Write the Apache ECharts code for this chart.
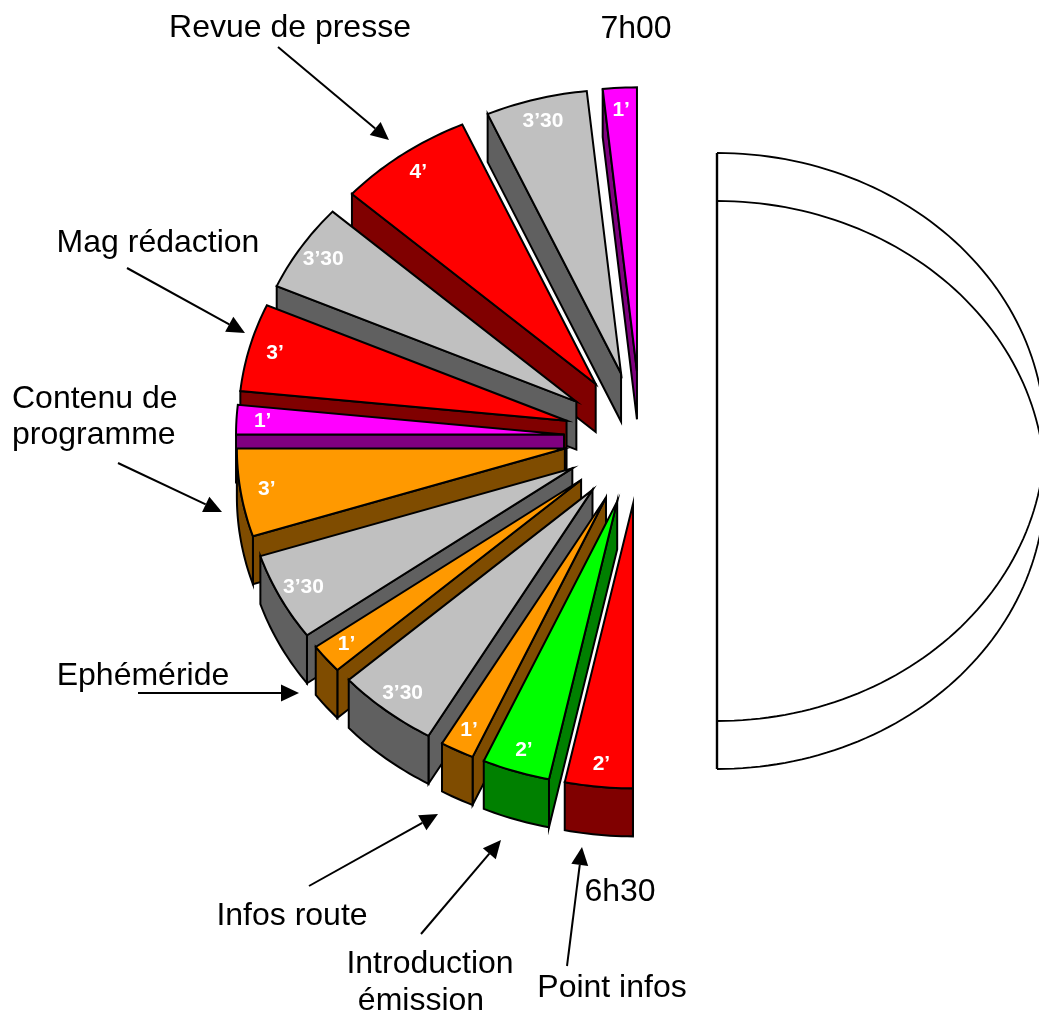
<!DOCTYPE html>
<html>
<head>
<meta charset="utf-8">
<style>
  html, body { margin: 0; padding: 0; background: #fff; }
  #box { width: 1039px; height: 1013px; }
</style>
<script src="https://cdn.jsdelivr.net/npm/echarts@6/dist/echarts.min.js"></script>
</head>
<body>
<div id="box"></div>
<script>
// from the bottom (6h30) to the top (7h00)
// the 3'30 slices are drawn as 3 minutes in the picture, the half turn is 30
var sliceMinutes = [2, 2, 1, 3, 1, 3, 3, 1, 3, 3, 4, 3, 1];
var sliceLabels = ['2’', '2’', '1’', '3’30', '1’', '3’30', '3’', '1’', '3’', '3’30', '4’', '3’30', '1’'];
var sliceKinds = ['red', 'green', 'orange', 'grey', 'orange', 'grey', 'orange', 'pink', 'red', 'grey', 'red', 'grey', 'pink'];
var kindColors = {
  red: ['#ff0000', '#800000'],
  green: ['#00ff00', '#008000'],
  orange: ['#ff9900', '#7f4c00'],
  grey: ['#c0c0c0', '#606060'],
  pink: ['#ff00ff', '#800080']
};
var halfPie = [30, 60]; // the empty half on the right

var chart = echarts.init(document.getElementById('box'));

var squash = 284 / 328;
var depth = 48;
var explode = 0.235;
var quarter = 15; // minutes where the rim stops facing us

var starts = [];
var total = 0;
sliceMinutes.forEach(function(m) {
  starts.push(total);
  total += m;
});

// polar point -> screen, tilted, pushed along the bisector
function project(api, r, minute, mid, e) {
  var o = api.coord([0, 0]);
  var p = api.coord([r, minute]);
  var off = api.coord([e, mid]);
  return [
    p[0] + off[0] - o[0],
    o[1] + (p[1] - o[1] + off[1] - o[1]) * squash
  ];
}

function down(pt) {
  return [pt[0], pt[1] + depth];
}

function arcPoints(api, from, to, mid, e) {
  var pts = [];
  var n = Math.max(2, Math.ceil((to - from) * 6));
  for (var i = 0; i <= n; i++) {
    pts.push(project(api, 1, from + (to - from) * i / n, mid, e));
  }
  return pts;
}

function poly(points, fill) {
  return {
    type: 'polygon',
    shape: { points: points },
    style: { fill: fill, stroke: '#000', lineWidth: 2, lineJoin: 'miter' }
  };
}

function renderSlice(params, api) {
  var i = api.value(0);
  var a0 = starts[i];
  var a1 = a0 + sliceMinutes[i];
  var mid = (a0 + a1) / 2;
  var colors = kindColors[sliceKinds[i]];
  var tip = project(api, 0, a0, mid, explode);
  var rim = arcPoints(api, a0, a1, mid, explode);
  var children = [];

  // wall on the lower straight edge
  children.push(poly([tip, rim[0], down(rim[0]), down(tip)], colors[1]));
  // wall under the rim
  if (a0 < quarter) {
    var front = arcPoints(api, a0, Math.min(a1, quarter), mid, explode);
    children.push(poly(front.concat(front.slice().reverse().map(down)), colors[1]));
  }
  children.push(poly([tip].concat(rim), colors[0]));

  var lab = project(api, 0.92, mid, mid, explode);
  children.push({
    type: 'text',
    style: {
      x: lab[0],
      y: lab[1],
      text: sliceLabels[i],
      fill: '#fff',
      font: 'bold 21px "Liberation Sans"',
      align: 'center',
      verticalAlign: 'middle'
    }
  });
  return { type: 'group', children: children };
}

function renderHalf(params, api) {
  var pts = [];
  for (var m = halfPie[0]; m <= halfPie[1]; m += 0.25) {
    pts.push(project(api, 1, m, m, 0));
  }
  var line = { stroke: '#000', lineWidth: 1.8, fill: 'none' };
  return {
    type: 'group',
    children: [
      { type: 'polyline', shape: { points: pts }, style: line },
      { type: 'polyline', shape: { points: pts.map(down) }, style: line },
      { type: 'line', shape: { x1: pts[0][0], y1: pts[0][1], x2: pts[0][0], y2: pts[pts.length - 1][1] + depth }, style: { stroke: '#000', lineWidth: 2.4 } }
    ]
  };
}

function labelText(x, y, text, align) {
  return {
    type: 'text',
    style: { x: x, y: y, text: text, fill: '#000', font: '32px "Liberation Sans"', align: align || 'center', verticalAlign: 'middle' }
  };
}

function arrow(x1, y1, x2, y2) {
  var a = Math.atan2(y2 - y1, x2 - x1);
  var len = 18, w = 8.5;
  var bx = x2 - Math.cos(a) * len, by = y2 - Math.sin(a) * len;
  var nx = -Math.sin(a) * w, ny = Math.cos(a) * w;
  return [
    { type: 'line', shape: { x1: x1, y1: y1, x2: bx, y2: by }, style: { stroke: '#000', lineWidth: 2 } },
    { type: 'polygon', shape: { points: [[x2, y2], [bx + nx, by + ny], [bx - nx, by - ny]] }, style: { fill: '#000' } }
  ];
}

var notes = [
  labelText(290, 28, 'Revue de presse'),
  labelText(636, 29, '7h00'),
  labelText(158, 243, 'Mag rédaction'),
  labelText(12, 399, 'Contenu de', 'left'),
  labelText(12, 435, 'programme', 'left'),
  labelText(143, 676, 'Ephéméride'),
  labelText(292, 916, 'Infos route'),
  labelText(430, 964, 'Introduction'),
  labelText(421, 1001, 'émission'),
  labelText(612, 988, 'Point infos'),
  labelText(620, 892, '6h30')
].concat(
  arrow(278, 47, 389, 140),
  arrow(127, 268, 245, 333),
  arrow(118, 463, 222, 512),
  arrow(138, 693, 299, 693),
  arrow(309, 886, 438, 814),
  arrow(421, 934, 501, 840),
  arrow(567, 966, 582, 847)
);

var hiddenAngle = { type: 'value', min: 0, max: 60, startAngle: 270, show: false };
var hiddenRadius = { type: 'value', min: 0, max: 1.3, show: false };

var option = {
  animation: false,
  polar: [
    { center: [641, 438], radius: [0, 328 * 1.3] },
    { center: [717, 437], radius: [0, 328 * 1.3] }
  ],
  angleAxis: [
    Object.assign({ polarIndex: 0 }, hiddenAngle),
    Object.assign({ polarIndex: 1 }, hiddenAngle)
  ],
  radiusAxis: [
    Object.assign({ polarIndex: 0 }, hiddenRadius),
    Object.assign({ polarIndex: 1 }, hiddenRadius)
  ],
  graphic: notes,
  series: [
    {
      type: 'custom',
      coordinateSystem: 'polar',
      polarIndex: 1,
      clip: false,
      silent: true,
      renderItem: renderHalf,
      data: [[0]]
    },
    {
      type: 'custom',
      coordinateSystem: 'polar',
      polarIndex: 0,
      clip: false,
      silent: true,
      renderItem: renderSlice,
      // back to front
      data: sliceMinutes.map(function(m, i) { return [i]; }).reverse()
    }
  ]
};

chart.setOption(option);
</script>
</body>
</html>
